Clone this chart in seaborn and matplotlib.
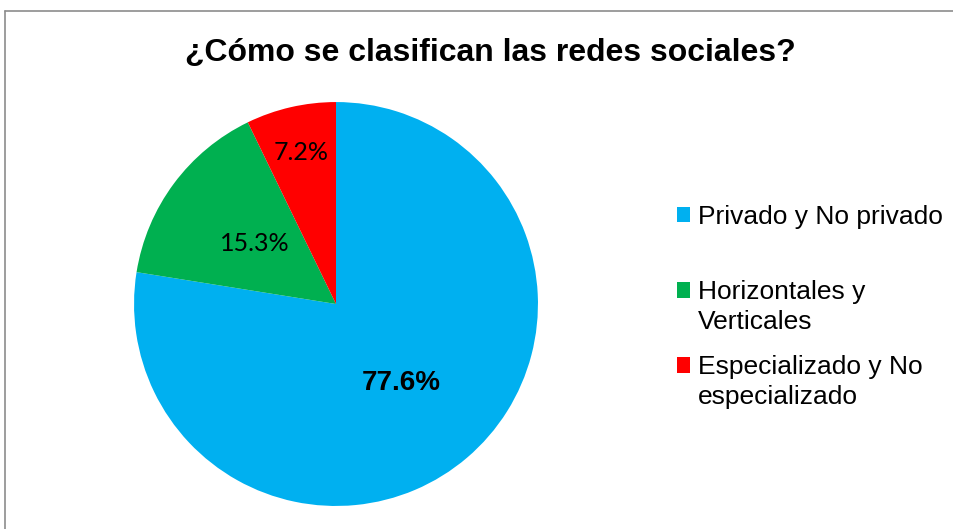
import matplotlib
matplotlib.use("Agg")
import matplotlib.pyplot as plt
import seaborn as sns
from matplotlib.patches import Patch
from matplotlib.lines import Line2D

categories = ["Privado y No privado", "Horizontales y\nVerticales", "Especializado y No\nespecializado"]
shares = [77.6, 15.3, 7.2]
colors = ["#00B0F0", "#00B050", "#FF0000"]
title = "¿Cómo se clasifican las redes sociales?"

sns.set_theme(style="white")
plt.rcParams["font.family"] = ["Liberation Sans", "DejaVu Sans"]
plt.rcParams["text.color"] = "black"
palette = sns.color_palette(colors)

fig = plt.figure(figsize=(9.54, 5.29), dpi=100)
fig.patch.set_facecolor("white")

# chart border (only top and left visible in the crop)
fig.add_artist(Line2D([5 / 954, 1.0], [1 - 11 / 529, 1 - 11 / 529], transform=fig.transFigure,
                      color="#8c8c8c", lw=1.2))
fig.add_artist(Line2D([5 / 954, 5 / 954], [0.0, 1 - 11 / 529], transform=fig.transFigure,
                      color="#8c8c8c", lw=1.2))

ax = fig.add_axes([0.1405, 0.0434, 0.4234, 0.7638])
share_iter = iter(shares)
wedges, texts, autotexts = ax.pie(shares, colors=palette, startangle=90, counterclock=False,
                                  autopct=lambda p: f"{next(share_iter):.1f}%",
                                  pctdistance=0.5, radius=1.0,
                                  wedgeprops=dict(linewidth=0))
ax.set_xlim(-1, 1)
ax.set_ylim(-1, 1)
ax.set_aspect("equal")
ax.axis("off")

for i, t in enumerate(autotexts):
    if i == 0:
        t.set_fontfamily(["Liberation Sans"])
        t.set_fontweight("bold")
        t.set_fontsize(20)
    else:
        t.set_fontfamily(["Lato", "DejaVu Sans"])
        t.set_fontsize(18)
    t.set_color("black")
# small slice label sits further out, as in the original
x, y = autotexts[2].get_position()
autotexts[2].set_position((x * 1.54, y * 1.54))
x, y = autotexts[0].get_position()
autotexts[0].set_position((x, y - 0.01))

fig.text(490 / 954, 1 - 53 / 529, title, ha="center", va="center",
         fontsize=23, fontweight="bold", color="black")

fs = 19
tops = [205, 280, 355]
for cat, col, top in zip(categories, palette, tops):
    leg = fig.legend(handles=[Patch(facecolor=col, edgecolor="none")], labels=[cat],
                     loc="upper left", bbox_to_anchor=(677 / 954, 1 - top / 529),
                     frameon=False, fontsize=fs, handlelength=0.5, handleheight=0.5,
                     handletextpad=0.3, borderpad=0, borderaxespad=0, labelcolor="black")
    txt = leg.get_texts()[0]
    txt.set_linespacing(1.32)
    nlines = cat.count("\n") + 1
    if nlines > 1:
        h = leg.legend_handles[0]
        h.set_y(h.get_y() + 0.65 * fs * (nlines - 1))

fig.savefig("out.png", dpi=100, facecolor="white")
